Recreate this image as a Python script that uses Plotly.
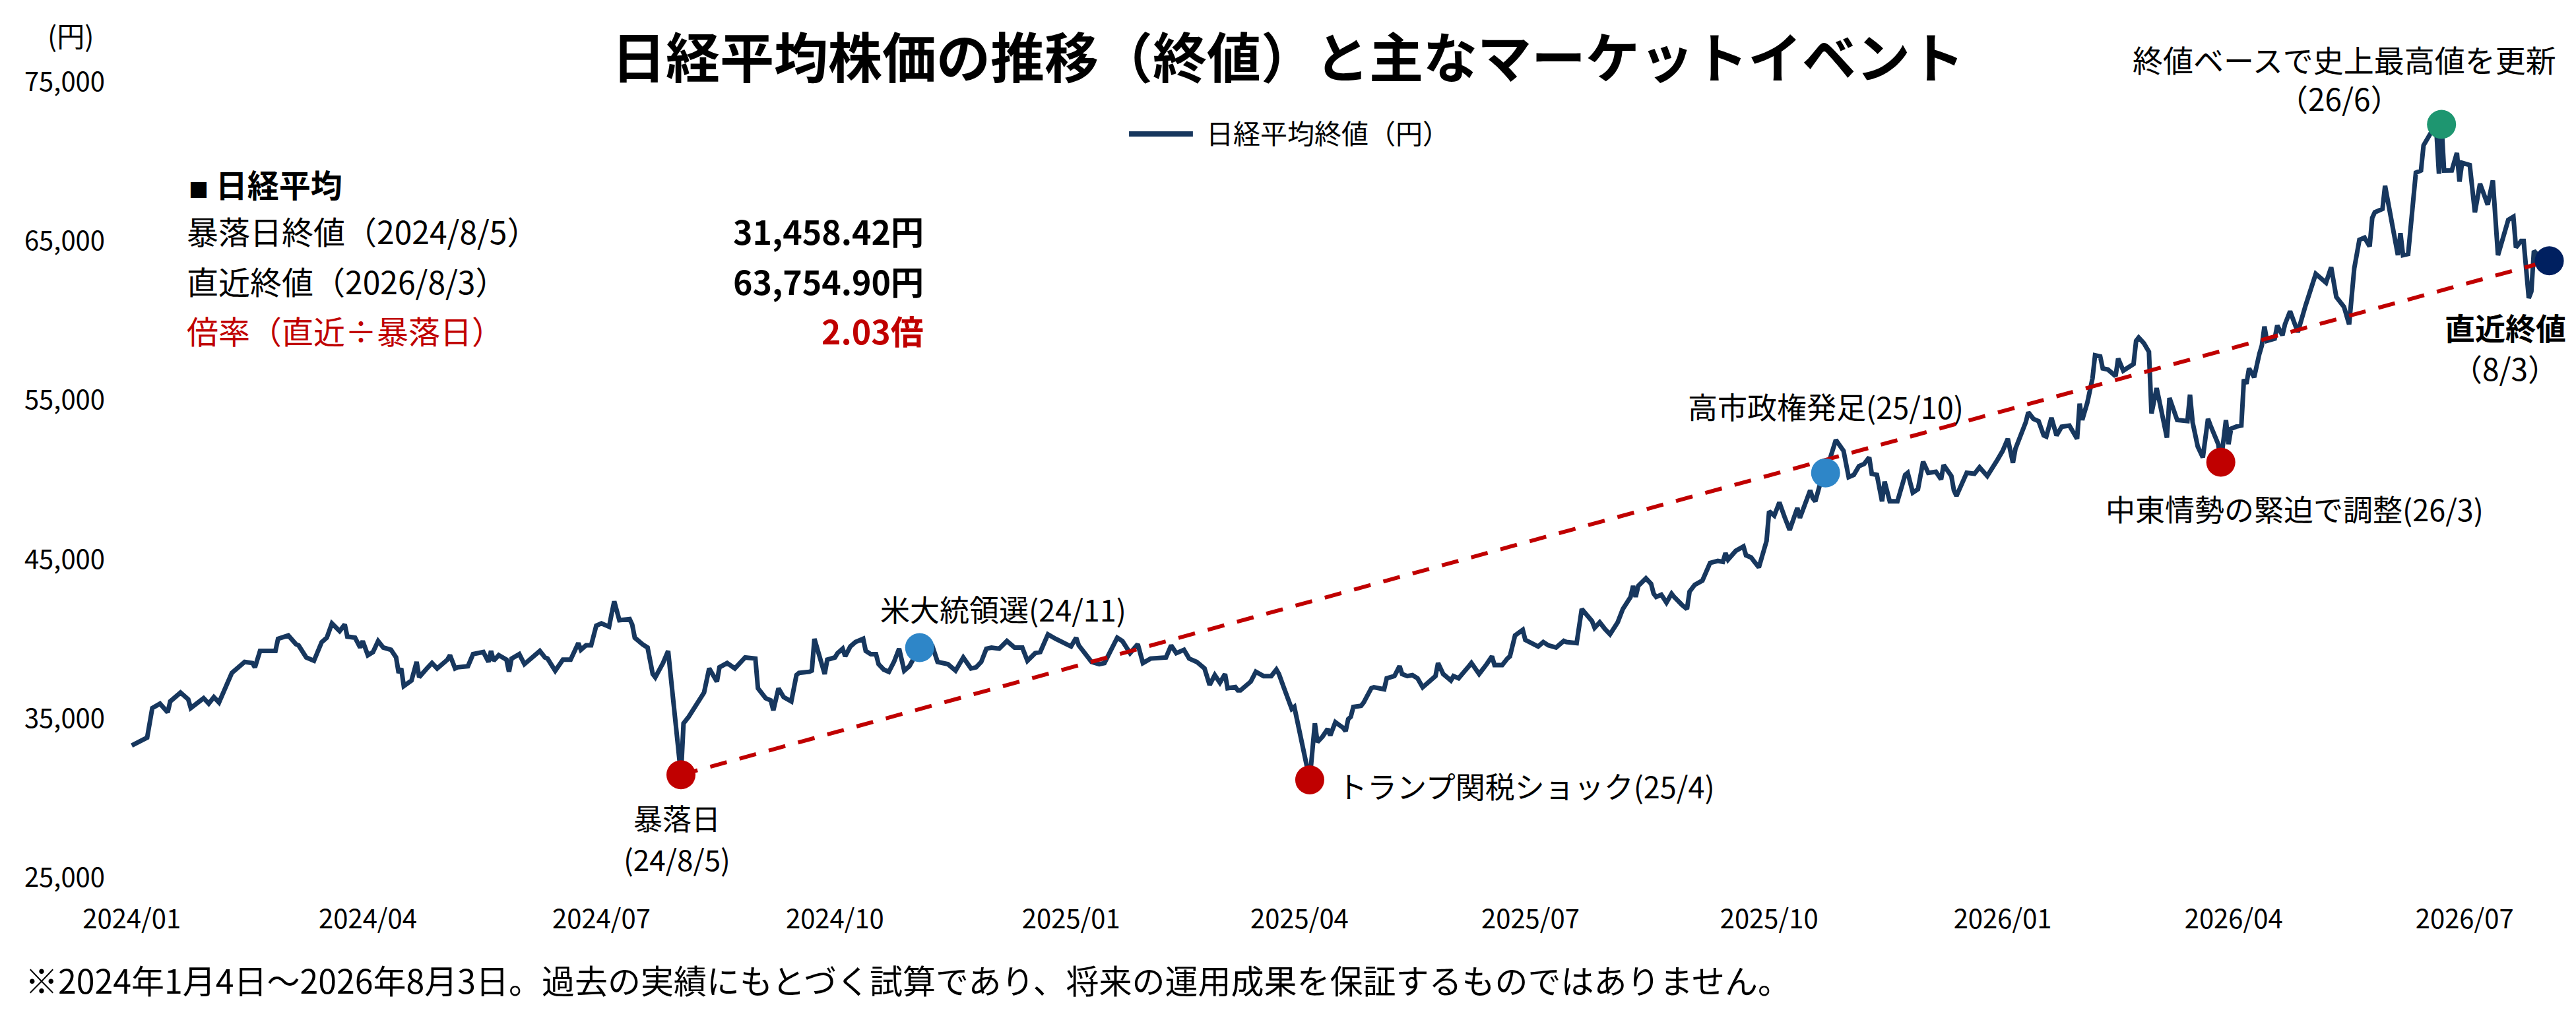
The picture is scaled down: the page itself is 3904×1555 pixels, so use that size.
import plotly.graph_objects as go

# 日経平均 終値
DATES = [
    "2024-01-04", "2024-01-10", "2024-01-12", "2024-01-15", "2024-01-18", "2024-01-19", "2024-01-23", "2024-01-26", "2024-01-27", "2024-01-30",
    "2024-02-01", "2024-02-03", "2024-02-05", "2024-02-07", "2024-02-09", "2024-02-12", "2024-02-17", "2024-02-20", "2024-02-21", "2024-02-23", "2024-02-29",
    "2024-03-01", "2024-03-05", "2024-03-08", "2024-03-09", "2024-03-12", "2024-03-15", "2024-03-18", "2024-03-20", "2024-03-22", "2024-03-25", "2024-03-27", "2024-03-28", "2024-03-31",
    "2024-04-02", "2024-04-03", "2024-04-05", "2024-04-07", "2024-04-09", "2024-04-11", "2024-04-14", "2024-04-16", "2024-04-17", "2024-04-18", "2024-04-19", "2024-04-22", "2024-04-24", "2024-04-25", "2024-04-28", "2024-04-30",
    "2024-05-02", "2024-05-06", "2024-05-07", "2024-05-09", "2024-05-10", "2024-05-14", "2024-05-16", "2024-05-18", "2024-05-20", "2024-05-22", "2024-05-23", "2024-05-24", "2024-05-26", "2024-05-29", "2024-05-30", "2024-05-31",
    "2024-06-03", "2024-06-05", "2024-06-07", "2024-06-11", "2024-06-13", "2024-06-14", "2024-06-17", "2024-06-20", "2024-06-23", "2024-06-25", "2024-06-26", "2024-06-27", "2024-06-29",
    "2024-07-01", "2024-07-03", "2024-07-05", "2024-07-08", "2024-07-09", "2024-07-10", "2024-07-12", "2024-07-16", "2024-07-17", "2024-07-18", "2024-07-21", "2024-07-23", "2024-07-25", "2024-07-26", "2024-07-29", "2024-07-31",
    "2024-08-05", "2024-08-06", "2024-08-08", "2024-08-11", "2024-08-14", "2024-08-16", "2024-08-19", "2024-08-20", "2024-08-23", "2024-08-26", "2024-08-30",
    "2024-09-03", "2024-09-04", "2024-09-07", "2024-09-09", "2024-09-10", "2024-09-12", "2024-09-14", "2024-09-17", "2024-09-19", "2024-09-20", "2024-09-24", "2024-09-25", "2024-09-26", "2024-09-30",
    "2024-10-01", "2024-10-04", "2024-10-05", "2024-10-07", "2024-10-08", "2024-10-10", "2024-10-12", "2024-10-15", "2024-10-16", "2024-10-18", "2024-10-20", "2024-10-21", "2024-10-23", "2024-10-25", "2024-10-27", "2024-10-29", "2024-10-31",
    "2024-11-02", "2024-11-06", "2024-11-11", "2024-11-13", "2024-11-17", "2024-11-19", "2024-11-20", "2024-11-23", "2024-11-26", "2024-11-28", "2024-11-30",
    "2024-12-02", "2024-12-04", "2024-12-07", "2024-12-10", "2024-12-13", "2024-12-16", "2024-12-18", "2024-12-21", "2024-12-23", "2024-12-26", "2024-12-29",
    "2025-01-04", "2025-01-06", "2025-01-07", "2025-01-12", "2025-01-15", "2025-01-17", "2025-01-20", "2025-01-22", "2025-01-24", "2025-01-27", "2025-01-30",
    "2025-02-01", "2025-02-04", "2025-02-06", "2025-02-10", "2025-02-12", "2025-02-14", "2025-02-17", "2025-02-19", "2025-02-22", "2025-02-25", "2025-02-27",
    "2025-03-01", "2025-03-03", "2025-03-05", "2025-03-06", "2025-03-09", "2025-03-10", "2025-03-11", "2025-03-15", "2025-03-17", "2025-03-20", "2025-03-23", "2025-03-25", "2025-03-26", "2025-03-28", "2025-03-31",
    "2025-04-01", "2025-04-07", "2025-04-09", "2025-04-10", "2025-04-12", "2025-04-14", "2025-04-15", "2025-04-17", "2025-04-20", "2025-04-21", "2025-04-22", "2025-04-23", "2025-04-24", "2025-04-27", "2025-04-28",
    "2025-05-01", "2025-05-02", "2025-05-06", "2025-05-07", "2025-05-10", "2025-05-12", "2025-05-13", "2025-05-15", "2025-05-17", "2025-05-19", "2025-05-21", "2025-05-23", "2025-05-26", "2025-05-27", "2025-05-29",
    "2025-06-01", "2025-06-02", "2025-06-04", "2025-06-06", "2025-06-08", "2025-06-09", "2025-06-12", "2025-06-15", "2025-06-17", "2025-06-18", "2025-06-21", "2025-06-23", "2025-06-24", "2025-06-26", "2025-06-29", "2025-06-30",
    "2025-07-03", "2025-07-05", "2025-07-07", "2025-07-09", "2025-07-12", "2025-07-13", "2025-07-15", "2025-07-16", "2025-07-20", "2025-07-22", "2025-07-24", "2025-07-26", "2025-07-27", "2025-07-29", "2025-07-31",
    "2025-08-02", "2025-08-05", "2025-08-07", "2025-08-10", "2025-08-11", "2025-08-12", "2025-08-13", "2025-08-16", "2025-08-18", "2025-08-19", "2025-08-20", "2025-08-22", "2025-08-24", "2025-08-26", "2025-08-27", "2025-08-30",
    "2025-09-01", "2025-09-02", "2025-09-04", "2025-09-07", "2025-09-08", "2025-09-10", "2025-09-13", "2025-09-15", "2025-09-16", "2025-09-17", "2025-09-20", "2025-09-23", "2025-09-24", "2025-09-26", "2025-09-27", "2025-09-29",
    "2025-10-02", "2025-10-03", "2025-10-05", "2025-10-07", "2025-10-09", "2025-10-11", "2025-10-14", "2025-10-15", "2025-10-19", "2025-10-20", "2025-10-21", "2025-10-23", "2025-10-25", "2025-10-27", "2025-10-29",
    "2025-11-01", "2025-11-03", "2025-11-05", "2025-11-07", "2025-11-09", "2025-11-11", "2025-11-12", "2025-11-14", "2025-11-16", "2025-11-17", "2025-11-19", "2025-11-22", "2025-11-25", "2025-11-26", "2025-11-28", "2025-11-30",
    "2025-12-02", "2025-12-04", "2025-12-07", "2025-12-09", "2025-12-10", "2025-12-13", "2025-12-14", "2025-12-15", "2025-12-19", "2025-12-22", "2025-12-24", "2025-12-27", "2025-12-31",
    "2026-01-02", "2026-01-04", "2026-01-06", "2026-01-07", "2026-01-11", "2026-01-12", "2026-01-14", "2026-01-16", "2026-01-18", "2026-01-19", "2026-01-21", "2026-01-23", "2026-01-25", "2026-01-28", "2026-01-31",
    "2026-02-01", "2026-02-02", "2026-02-04", "2026-02-06", "2026-02-07", "2026-02-09", "2026-02-10", "2026-02-12", "2026-02-15", "2026-02-16", "2026-02-18", "2026-02-20", "2026-02-22", "2026-02-23", "2026-02-24", "2026-02-26", "2026-02-28",
    "2026-03-01", "2026-03-03", "2026-03-04", "2026-03-07", "2026-03-08", "2026-03-11", "2026-03-15", "2026-03-16", "2026-03-17", "2026-03-19", "2026-03-21", "2026-03-23", "2026-03-24", "2026-03-27", "2026-03-28", "2026-03-30", "2026-03-31",
    "2026-04-01", "2026-04-03", "2026-04-05", "2026-04-06", "2026-04-07", "2026-04-08", "2026-04-10", "2026-04-12", "2026-04-13", "2026-04-14", "2026-04-15", "2026-04-18", "2026-04-19", "2026-04-21", "2026-04-22", "2026-04-24", "2026-04-27", "2026-04-30",
    "2026-05-04", "2026-05-08", "2026-05-10", "2026-05-12", "2026-05-15", "2026-05-17", "2026-05-19", "2026-05-21", "2026-05-23", "2026-05-25", "2026-05-26", "2026-05-27", "2026-05-30", "2026-05-31",
    "2026-06-01", "2026-06-05", "2026-06-06", "2026-06-07", "2026-06-09", "2026-06-12", "2026-06-14", "2026-06-15", "2026-06-18", "2026-06-20", "2026-06-21", "2026-06-22", "2026-06-23", "2026-06-26", "2026-06-28", "2026-06-29", "2026-06-30",
    "2026-07-03", "2026-07-05", "2026-07-07", "2026-07-10", "2026-07-12", "2026-07-14", "2026-07-18", "2026-07-20", "2026-07-21", "2026-07-23", "2026-07-24", "2026-07-26", "2026-07-27", "2026-07-28", "2026-07-31",
    "2026-08-03",
]

CLOSES = [
    33300, 33790, 35650, 35930, 35380, 36070, 36620, 36200, 35650, 36000,
    36270, 35930, 36340, 36000, 36760, 37860, 38550, 38480, 38210, 39240, 39240,
    40000, 40210, 39660, 39590, 38830, 38620, 39790, 40070, 40970, 40490, 40900, 40140, 40070,
    39450, 39860, 38970, 39170, 39860, 39450, 39310, 38830, 37860, 38140, 37030, 37380, 38550, 37590, 38140, 38480,
    38140, 38690, 38970, 38140, 38210, 38280, 39040, 39100, 39170, 38550, 39240, 38620, 38970, 38690, 37930, 38760,
    39040, 38410, 38690, 39240, 38830, 38760, 37990, 38690, 38690, 39380, 39730, 39310, 39590,
    39590, 40830, 40970, 40760, 41590, 42350, 41170, 41240, 40900, 40070, 39660, 39450, 37790, 37580, 38480, 39240,
    31458.42, 34690, 35100, 35930, 36620, 38140, 37310, 38210, 38480, 38140, 38830,
    38760, 36890, 36270, 36130, 35510, 36890, 36340, 36070, 37720, 37860, 37930, 38000, 40000, 37790,
    38690, 38830, 39100, 39380, 38900, 39520, 39800, 40000, 39240, 39030, 39030, 38410, 38070, 37930, 38550, 39380, 38000,
    38280, 39450, 39520, 38550, 38410, 38140, 38000, 38830, 38140, 38210, 38550,
    39380, 39450, 39380, 39860, 39450, 39450, 38620, 39100, 39170, 40280, 40000,
    39520, 40070, 39590, 38550, 38410, 38480, 39380, 40070, 39860, 39100, 39660,
    38480, 38760, 38760, 38830, 39590, 39100, 39310, 38760, 38550, 38140, 37100,
    37720, 37240, 37790, 36900, 36970, 36760, 36760, 37310, 37930, 37660, 37660, 38070, 37790, 36900, 35590,
    35720, 31136.58, 34690, 33510, 33860, 34340, 33930, 34760, 34410, 34200, 34960, 35100, 35720, 35790, 35990,
    36900, 36960, 36830, 37520, 37660, 38280, 37790, 37660, 37720, 37520, 36960, 37240, 37660, 38480, 37790,
    37380, 37660, 37520, 37860, 38280, 38480, 37790, 38420, 38900, 38350, 38350, 38760, 38900, 40210, 40560, 39930,
    39730, 39520, 39800, 39590, 39450, 39590, 39870, 39800, 39730, 41870, 41450, 41110, 40690, 41040, 40620,
    40280, 41040, 41870, 42630, 43320, 42630, 43320, 43800, 43460, 42840, 42630, 42770, 42280, 42840, 42630, 42140,
    41870, 42970, 43390, 43660, 44080, 44770, 44900, 44840, 45390, 44980, 45530, 45800, 45250, 45110, 44900, 44490,
    46150, 48010, 47740, 48570, 47670, 46840, 48220, 47600, 49330, 48840, 48640, 49810, 50430, 51400, 52500,
    51810, 50160, 50300, 50850, 50990, 51400, 50370, 50300, 48640, 49880, 48640, 48640, 50300, 50430, 49190, 49400,
    51130, 50430, 50500, 50020, 50920, 50230, 49330, 48980, 50430, 50370, 50780, 50230, 51260,
    51810, 52570, 51060, 51950, 53610, 54230, 53820, 53680, 52780, 52710, 53890, 52780, 53330, 53400, 52570,
    54780, 53750, 54850, 56370, 57820, 57750, 56990, 56920, 56510, 57610, 56850, 57060, 57270, 58720, 58930, 58580, 58030,
    54160, 55750, 54990, 52640, 55130, 53750, 53680, 55340, 53610, 52090, 51400, 53820, 53400, 52230, 51100, 53750, 52230,
    53200, 53330, 53400, 56300, 56030, 56990, 56440, 57890, 58440, 59620, 58720, 58860, 59690, 59070, 59760, 60580, 59270, 60930,
    62930, 62380, 63350, 61480, 60860, 59760, 63280, 65070, 65210, 64660, 66450, 66800, 67010, 68460,
    67560, 64110, 65490, 64110, 64180, 69290, 69430, 71010, 71840, 71910, 69220, 72325, 69425, 69430, 70530, 68730, 69910,
    69770, 66800, 68600, 67280, 68800, 64110, 66320, 66520, 64590, 65000, 65000, 61410, 61830, 64380, 63830,
    63754.90,
]

# イベント（点の位置は終値系列から取る）
EVENT_DATES = ["2024-08-05", "2024-11-06", "2025-04-07", "2025-10-25", "2026-03-28", "2026-06-22", "2026-08-03"]
EVENT_COLORS = ["#C00000", "#2E86C8", "#C00000", "#2E86C8", "#C00000", "#1E9670", "#002060"]
CRASH_DATE = "2024-08-05"
LATEST_DATE = "2026-08-03"

TICK_DATES = ["2024-01-04", "2024-04-05", "2024-07-05", "2024-10-04", "2025-01-04", "2025-04-03",
              "2025-07-02", "2025-10-03", "2026-01-02", "2026-04-02", "2026-07-01"]
TICK_TEXT = ["2024/01", "2024/04", "2024/07", "2024/10", "2025/01", "2025/04",
             "2025/07", "2025/10", "2026/01", "2026/04", "2026/07"]

assert len(DATES) == len(CLOSES)

FONT = "Noto Sans CJK JP"
LINE_COLOR = "#17375E"
RED = "#C00000"

close_by_date = dict(zip(DATES, CLOSES))
event_closes = [close_by_date[d] for d in EVENT_DATES]
crash_close = close_by_date[CRASH_DATE]
latest_close = close_by_date[LATEST_DATE]
ratio = latest_close / crash_close

fig = go.Figure()

fig.add_trace(go.Scatter(
    x=DATES, y=CLOSES, mode="lines",
    line=dict(color=LINE_COLOR, width=7),
    name="日経平均終値（円）", showlegend=False,
))
# 暴落日 → 直近 の破線
fig.add_trace(go.Scatter(
    x=[CRASH_DATE, LATEST_DATE], y=[crash_close, latest_close], mode="lines",
    line=dict(color=RED, width=6, dash="26px,20px"),
    showlegend=False, cliponaxis=False,
))
fig.add_trace(go.Scatter(
    x=EVENT_DATES, y=event_closes, mode="markers",
    marker=dict(size=44, color=EVENT_COLORS, line=dict(width=0)),
    showlegend=False, cliponaxis=False,
))

# 点の横に付けるラベル: (イベント番号, テキスト, xshift, yshift, xanchor, bold, size)
event_labels = [
    (0, "暴落日", -6, -65, "center", False, 44),
    (0, "(24/8/5)", -6, -127, "center", False, 44),
    (1, "米大統領選(24/11)", 127, 59, "center", False, 45),
    (2, "トランプ関税ショック(25/4)", 40, -9, "left", False, 45),
    (3, "高市政権発足(25/10)", 0, 101, "center", False, 45),
    (4, "中東情勢の緊迫で調整(26/3)", 112, -70, "center", False, 45),
    (5, "終値ベースで史上最高値を更新", -147, 100, "center", False, 46),
    (5, "（26/6）", -155, 41, "center", False, 46),
    (6, "直近終値", -67, -100, "center", True, 46),
    (6, "（8/3）", -67, -162, "center", False, 46),
]
for i, text, dx, dy, anchor, bold, size in event_labels:
    fig.add_annotation(
        x=EVENT_DATES[i], y=event_closes[i], xref="x", yref="y",
        text=f"<b>{text}</b>" if bold else text,
        showarrow=False, xshift=dx, yshift=dy, xanchor=anchor, yanchor="middle",
        font=dict(family=FONT, size=size, color="black"),
    )

# 左上の数値ボックス
info_rows = [
    ("暴落日終値（2024/8/5）", f"{crash_close:,.2f}円", "black", 0.8134),
    ("直近終値（2026/8/3）", f"{latest_close:,.2f}円", "black", 0.7504),
    ("倍率（直近÷暴落日）", f"{ratio:.2f}倍", RED, 0.6882),
]
fig.add_annotation(
    x=0.0260, y=0.8723, xref="paper", yref="paper", xanchor="left", yanchor="middle",
    text="<span style='font-size:30px'>■</span> <b>日経平均</b>", showarrow=False,
    font=dict(family=FONT, size=48, color="black"),
)
for label, value, color, yy in info_rows:
    fig.add_annotation(
        x=0.0252, y=yy, xref="paper", yref="paper", xanchor="left", yanchor="middle",
        text=label, showarrow=False, font=dict(family=FONT, size=48, color=color),
    )
    fig.add_annotation(
        x=0.3286, y=yy, xref="paper", yref="paper", xanchor="right", yanchor="middle",
        text=f"<b>{value}</b>", showarrow=False, font=dict(family=FONT, size=50, color=color),
    )

# 凡例（線のサンプル + テキスト）
fig.add_shape(
    type="line", xref="paper", yref="paper", x0=0.4122, x1=0.4384, y0=0.9345, y1=0.9345,
    line=dict(color=LINE_COLOR, width=8),
)
fig.add_annotation(
    x=0.4433, y=0.9370, xref="paper", yref="paper", xanchor="left", yanchor="middle",
    text="日経平均終値（円）", showarrow=False, font=dict(family=FONT, size=41, color="black"),
)

# 単位
fig.add_annotation(
    x=-0.0219, y=1.0589, xref="paper", yref="paper", xanchor="center", yanchor="middle",
    text="(円)", showarrow=False, font=dict(family=FONT, size=42, color="black"),
)

# 注記
fig.add_annotation(
    x=-0.0411, y=-0.1277, xref="paper", yref="paper", xanchor="left", yanchor="middle",
    text="※2024年1月4日～2026年8月3日。過去の実績にもとづく試算であり、将来の運用成果を保証するものではありません。",
    showarrow=False, font=dict(family=FONT, size=50, color="black"),
)

fig.update_layout(
    width=3904, height=1555,
    margin=dict(l=188, r=21, t=124, b=225),
    paper_bgcolor="white", plot_bgcolor="white",
    font=dict(family=FONT, color="black"),
    title=dict(
        text="<b>日経平均株価の推移（終値）と主なマーケットイベント</b>",
        x=0.5, xref="container", xanchor="center",
        y=1 - 89 / 1555, yref="container", yanchor="middle",
        font=dict(family=FONT, size=82, color="black"),
    ),
    showlegend=False,
)
fig.update_xaxes(
    type="date", range=["2024-01-01", "2026-08-08"],
    tickvals=TICK_DATES, ticktext=TICK_TEXT,
    showgrid=False, zeroline=False, showline=False, ticks="",
    tickfont=dict(family=FONT, size=40, color="black"),
    ticklabelstandoff=36,
)
fig.update_yaxes(
    range=[25000, 75000], tick0=25000, dtick=10000, tickformat=",d",
    showgrid=False, zeroline=False, showline=False, ticks="",
    tickfont=dict(family=FONT, size=40, color="black"),
    ticklabelstandoff=28,
)

fig.write_html(
    "out.html",
    config={"displayModeBar": False},
    post_script="document.body.style.margin='0';document.body.style.overflow='hidden';",
)
